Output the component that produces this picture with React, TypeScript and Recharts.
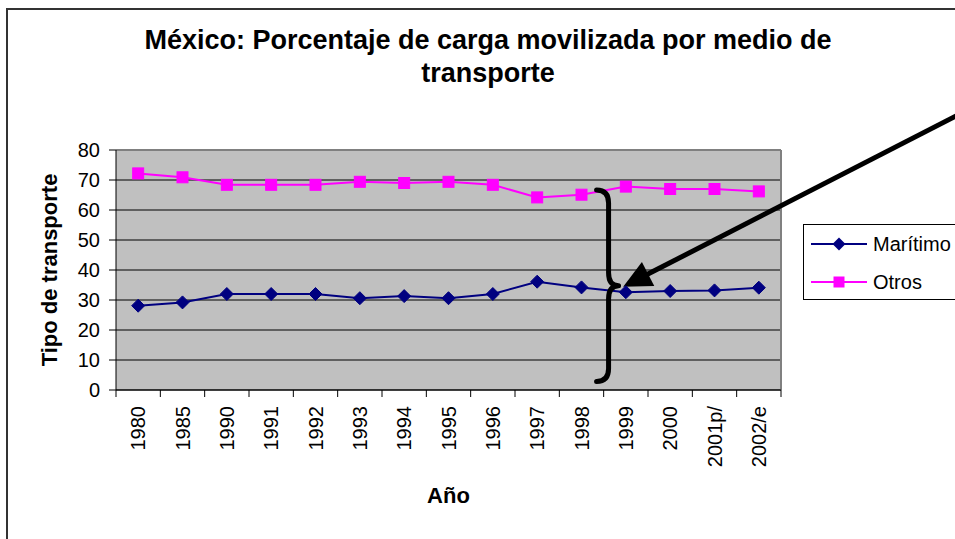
import React from 'react';
import { LineChart, Line, XAxis, YAxis, CartesianGrid, ReferenceLine, Legend } from 'recharts';

// ---- data ----
const years = ['1980', '1985', '1990', '1991', '1992', '1993', '1994', '1995', '1996', '1997', '1998', '1999', '2000', '2001p/', '2002/e'];
const maritimo = [28.1, 29.2, 32, 32, 32, 30.6, 31.3, 30.6, 32, 36.1, 34.2, 32.6, 33, 33.2, 34.1];
const otros = [72.2, 70.9, 68.4, 68.4, 68.4, 69.4, 69, 69.4, 68.4, 64.2, 65.1, 67.8, 67, 67, 66.2];
const yTicks = [0, 10, 20, 30, 40, 50, 60, 70, 80];
const seriesNames = ['Marítimo', 'Otros'];
const seriesColors = ['#000080', '#FF00FF'];
const titleLines = ['México: Porcentaje de carga movilizada por medio de', 'transporte'];
const yTitle = 'Tipo de transporte';
const xTitle = 'Año';

// annotation anchor points in data units (x = category index, y = value)
const arrowTail = { x: 18.6, y: 92.5 };
const arrowTip = { x: 10.94, y: 34.4 };
const braceTopPt = { x: 10.33, y: 66.7 };
const braceBottomPt = { x: 10.35, y: 2.8 };

const data = years.map((year, i) => ({ year, idx: i, maritimo: maritimo[i], otros: otros[i] }));

const FONT = '"Liberation Sans", Arial, Helvetica, sans-serif';

const XTick = (props: any) => {
  const { x, y, payload, index } = props;
  const half = payload && typeof payload.offset === 'number' && payload.offset > 0 ? payload.offset : 22.17;
  const axisY = y - 16;
  return (
    <g>
      <line x1={x - half} y1={axisY} x2={x - half} y2={axisY + 7} stroke="#000" strokeWidth={1} />
      {index === years.length - 1 ? (
        <line x1={x + half} y1={axisY} x2={x + half} y2={axisY + 7} stroke="#000" strokeWidth={1} />
      ) : null}
      <text
        x={x}
        y={y}
        transform={`rotate(-90 ${x} ${y})`}
        textAnchor="end"
        dy="0.35em"
        fontSize={20}
        fill="#000"
        fontFamily={FONT}
      >
        {payload.value}
      </text>
    </g>
  );
};

const Diamond = (props: any) => {
  const { cx, cy, fill } = props;
  if (cx == null || cy == null) return null;
  const s = 6.5;
  return <path d={`M${cx},${cy - s}L${cx + s},${cy}L${cx},${cy + s}L${cx - s},${cy}Z`} fill={fill} stroke={fill} />;
};

const Square = (props: any) => {
  const { cx, cy, fill } = props;
  if (cx == null || cy == null) return null;
  const s = 5.5;
  return <rect x={cx - s} y={cy - s} width={2 * s} height={2 * s} fill={fill} stroke={fill} />;
};

const ArrowShape = (props: any) => {
  const { x1, y1, x2, y2 } = props;
  const dx = x2 - x1;
  const dy = y2 - y1;
  const len = Math.sqrt(dx * dx + dy * dy) || 1;
  const ux = dx / len;
  const uy = dy / len;
  const px = -uy;
  const py = ux;
  const headLen = 28;
  const headHalf = 13.5;
  const bx = x2 - ux * headLen;
  const by = y2 - uy * headLen;
  return (
    <g>
      <line x1={x1} y1={y1} x2={bx + ux * 4} y2={by + uy * 4} stroke="#000" strokeWidth={5} />
      <path
        d={`M${x2},${y2}L${bx + px * headHalf},${by + py * headHalf}L${bx - px * headHalf},${by - py * headHalf}Z`}
        fill="#000"
      />
    </g>
  );
};

const BraceShape = (props: any) => {
  const { x1, y1, x2, y2 } = props;
  const top = Math.min(y1, y2);
  const bot = Math.max(y1, y2);
  const xs = (x1 + x2) / 2;
  const m = (top + bot) / 2;
  const v = xs + 12;
  const c = xs + 22;
  const r = 13;
  const d = [
    `M${xs},${top}`,
    `Q${v},${top} ${v},${top + r}`,
    `L${v},${m - r}`,
    `Q${v},${m} ${c},${m}`,
    `M${c},${m}`,
    `Q${v},${m} ${v},${m + r}`,
    `L${v},${bot - r}`,
    `Q${v},${bot} ${xs},${bot}`,
  ].join(' ');
  return <path d={d} fill="none" stroke="#000" strokeWidth={5} strokeLinecap="round" />;
};

const LegendContent = (props: any) => {
  const { payload } = props;
  return (
    <div
      style={{
        position: 'relative',
        width: 160,
        height: 76,
        boxSizing: 'border-box',
        border: '1px solid #000',
        background: '#fff',
        fontFamily: FONT,
      }}
    >
      {(payload || []).map((entry: any, i: number) => {
        const cy = i === 0 ? 19 : 56.5;
        const col = entry.color;
        return (
          <div key={entry.value} style={{ position: 'absolute', left: 0, top: cy - 12, height: 24, width: 160 }}>
            <svg width={62} height={24} style={{ position: 'absolute', left: 7, top: 0 }}>
              <line x1={0} y1={12} x2={56} y2={12} stroke={col} strokeWidth={2} />
              {entry.type === 'diamond' ? (
                <path d="M28,5.5L34.5,12L28,18.5L21.5,12Z" fill={col} />
              ) : (
                <rect x={22.5} y={6.5} width={11} height={11} fill={col} />
              )}
            </svg>
            <span
              style={{
                position: 'absolute',
                left: 69,
                top: 0,
                lineHeight: '24px',
                fontSize: 20,
                color: '#000',
                whiteSpace: 'nowrap',
              }}
            >
              {entry.value}
            </span>
          </div>
        );
      })}
    </div>
  );
};

const YLabel = (props: any) => {
  const vb = props.viewBox || { x: 0, y: 150, width: 116, height: 240 };
  const x = vb.x + 49;
  const y = vb.y + vb.height / 2;
  return (
    <text
      x={x}
      y={y}
      transform={`rotate(-90 ${x} ${y})`}
      textAnchor="middle"
      dy="0.355em"
      fontSize={22}
      fontWeight="bold"
      fill="#000"
      fontFamily={FONT}
    >
      {yTitle}
    </text>
  );
};

const XLabel = (props: any) => {
  const vb = props.viewBox || { x: 116, y: 390, width: 665, height: 149 };
  return (
    <text
      x={vb.x + vb.width / 2}
      y={vb.y + 113}
      textAnchor="middle"
      fontSize={22}
      fontWeight="bold"
      fill="#000"
      fontFamily={FONT}
    >
      {xTitle}
    </text>
  );
};

export default function App() {
  return (
    <div
      style={{
        position: 'absolute',
        left: 0,
        top: 0,
        width: 955,
        height: 539,
        overflow: 'hidden',
        background: '#fff',
        fontFamily: FONT,
      }}
    >
      <div
        style={{
          position: 'absolute',
          left: 6,
          top: 8,
          width: 1000,
          height: 600,
          borderLeft: '2px solid #333',
          borderTop: '2px solid #333',
        }}
      />
      <div
        style={{
          position: 'absolute',
          left: 0,
          top: 24,
          width: 976,
          textAlign: 'center',
          fontSize: 27,
          fontWeight: 'bold',
          lineHeight: '33px',
          color: '#000',
        }}
      >
        {titleLines.map((t) => (
          <div key={t}>{t}</div>
        ))}
      </div>
      <div style={{ position: 'absolute', left: 0, top: 0 }}>
        <LineChart width={955} height={539} data={data} margin={{ top: 150, right: 174, bottom: 0, left: 0 }}>
          <CartesianGrid vertical={false} stroke="#000" fill="#c0c0c0" fillOpacity={1} />
          <XAxis
            dataKey="year"
            type="category"
            scale="band"
            height={149}
            interval={0}
            tickLine={false}
            tickSize={7}
            tickMargin={9}
            axisLine={{ stroke: '#000', strokeWidth: 1 }}
            tick={<XTick />}
            label={{ content: <XLabel /> } as any}
          />
          <XAxis xAxisId="n" dataKey="idx" type="number" domain={[-0.5, 14.5]} hide allowDataOverflow />
          <YAxis
            width={116}
            domain={[0, 80]}
            ticks={yTicks}
            interval={0}
            tickSize={7}
            tickMargin={9}
            tickLine={{ stroke: '#000' }}
            axisLine={{ stroke: '#000', strokeWidth: 1 }}
            tick={{ fill: '#000', fontSize: 20, fontFamily: FONT }}
            label={{ content: <YLabel /> } as any}
          />
          <ReferenceLine y={80} stroke="#808080" strokeWidth={2} />
          <ReferenceLine xAxisId="n" x={14.5} stroke="#808080" strokeWidth={2} />
          <Legend
            layout="vertical"
            align="center"
            verticalAlign="middle"
            wrapperStyle={{ left: 803, top: 224, width: 160, height: 76 }}
            content={<LegendContent />}
          />
          <Line
            name={seriesNames[0]}
            dataKey="maritimo"
            stroke={seriesColors[0]}
            strokeWidth={2}
            legendType="diamond"
            dot={<Diamond fill={seriesColors[0]} />}
            activeDot={false}
            isAnimationActive={false}
          />
          <Line
            name={seriesNames[1]}
            dataKey="otros"
            stroke={seriesColors[1]}
            strokeWidth={2}
            legendType="square"
            dot={<Square fill={seriesColors[1]} />}
            activeDot={false}
            isAnimationActive={false}
          />
          <ReferenceLine
            xAxisId="n"
            ifOverflow="visible"
            segment={[braceTopPt, braceBottomPt]}
            shape={(p: any) => <BraceShape {...p} />}
          />
          <ReferenceLine
            xAxisId="n"
            ifOverflow="visible"
            segment={[arrowTail, arrowTip]}
            shape={(p: any) => <ArrowShape {...p} />}
          />
        </LineChart>
      </div>
    </div>
  );
}
